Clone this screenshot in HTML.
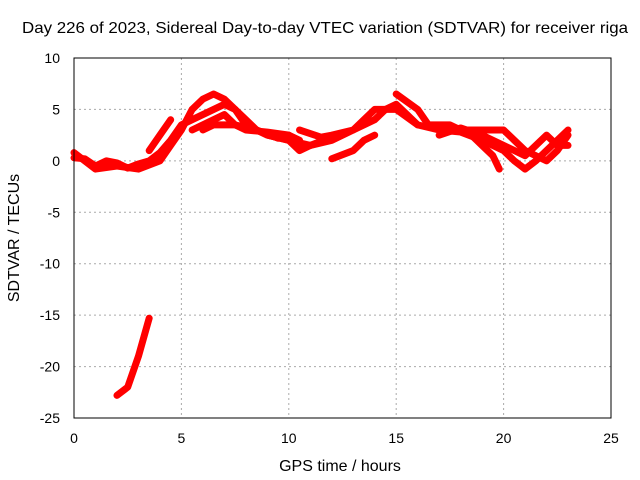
<!DOCTYPE html>
<html><head><meta charset="utf-8"><style>
body{margin:0;background:#fff}
svg{display:block;font-family:"Liberation Sans",sans-serif;font-size:14px}
.big{font-size:16px}
</style></head><body>
<svg id="c" width="640" height="480">
<rect width="640" height="480" fill="#fff"/>
<text class="big" x="22" y="33" textLength="606" lengthAdjust="spacingAndGlyphs">Day 226 of 2023, Sidereal Day-to-day VTEC variation (SDTVAR) for receiver riga</text>
<text class="big" x="340" y="471" text-anchor="middle">GPS time / hours</text>
<text class="big" transform="translate(19,238) rotate(-90)" text-anchor="middle">SDTVAR / TECUs</text>
<g id="grid"></g><g id="marks"></g>
<rect x="74" y="58" width="537" height="360" fill="none" stroke="#000"/>
</svg>
<script>
const xTicks=[0,5,10,15,20,25];
const yTicks=[10,5,0,-5,-10,-15,-20,-25];
const trackA=[[0,0.3],[0.5,0.2],[1,-0.5],[1.5,0],[2,-0.2],[2.5,-0.7],[3,-0.3],[3.5,0],[4,0.8],[4.5,2],[5,3.5],[5.5,4],[6,4.5],[7,5.5],[7.5,5],[8,3.5],[9,2.5],[10,2],[11,1.5],[12,2],[13,3],[14,4],[14.5,5],[15,5.5],[15.5,4.5],[16,3.5],[17,3],[18,2.8],[19,2],[20,1],[20.5,0],[21,-0.8],[21.5,0],[22,1],[22.5,2],[23,3]];
const trackB=[[0,0.8],[0.5,0],[1,-0.8],[2,-0.5],[3,-0.8],[4,0],[4.5,1.5],[5,3],[5.5,5],[6,6],[6.5,6.5],[7,6],[8,4],[8.5,3],[9.5,2.2],[10,2.5],[10.5,2]];
const trackC=[[3.5,1],[4,2.5],[4.5,4]];
const trackD=[[6,3],[6.5,3.5],[7.5,3.5],[8.5,3],[9,2.5],[10,2],[10.5,1],[11,1.5],[12,2.3]];
const trackE=[[10.5,3],[11.5,2.3],[12,2.5],[13,3],[13.5,4],[14,5],[15,5],[16,3.5]];
const trackF=[[12,0.2],[13,1],[13.5,2],[14,2.5]];
const trackG=[[15,6.5],[16,5],[16.5,3.5],[17.5,3.5],[18.5,2.5],[19,1.5],[19.5,0.5],[19.8,-0.8]];
const trackH=[[18,3],[19,3],[20,3],[20.5,2],[21,1],[22,0],[22.5,1],[23,2.5]];
const trackI=[[17,2.5],[18,3.2],[19,2.5],[20,1.5],[21,0.5],[21.5,1.5],[22,2.5],[22.5,1.5],[23,1.5]];
const trackJ=[[5.5,3],[6.5,4],[7,4.5],[7.5,3.5],[8,3],[9,2.8],[10,2.5]];
const trackLow=[[2,-22.8],[2.5,-22],[3,-19],[3.5,-15.3]];
const tracks=[trackA,trackB,trackC,trackD,trackE,trackF,trackG,trackH,trackI,trackJ,trackLow];
const X=v=>74+v*(537/25), Y=v=>58+(10-v)*(360/35);
const ns="http://www.w3.org/2000/svg";
const g=document.getElementById('grid'), m=document.getElementById('marks');
function el(t,a,p){const e=document.createElementNS(ns,t);for(const k in a)e.setAttribute(k,a[k]);p.appendChild(e);return e;}
xTicks.forEach(t=>{
 const l=el('line',{x1:X(t),x2:X(t),y1:58,y2:418,stroke:'#aaa','stroke-dasharray':'2,3'},g);
 
 
 const tx=el('text',{x:X(t),y:443,'text-anchor':'middle'},g);tx.textContent=t;
 
 
});
yTicks.forEach(t=>{
 const l=el('line',{x1:74,x2:611,y1:Y(t),y2:Y(t),stroke:'#aaa','stroke-dasharray':'2,3'},g);
 
 
 const tx=el('text',{x:60,y:Y(t)+5,'text-anchor':'end'},g);tx.textContent=t;
 
 
});
tracks.forEach(tr=>{
 const p=el('polyline',{points:tr.map(d=>X(d[0])+','+Y(d[1])).join(' '),fill:'none',stroke:'#f00','stroke-width':7,'stroke-linejoin':'round','stroke-linecap':'round'},m);
 
 
});
</script>
</body></html>
